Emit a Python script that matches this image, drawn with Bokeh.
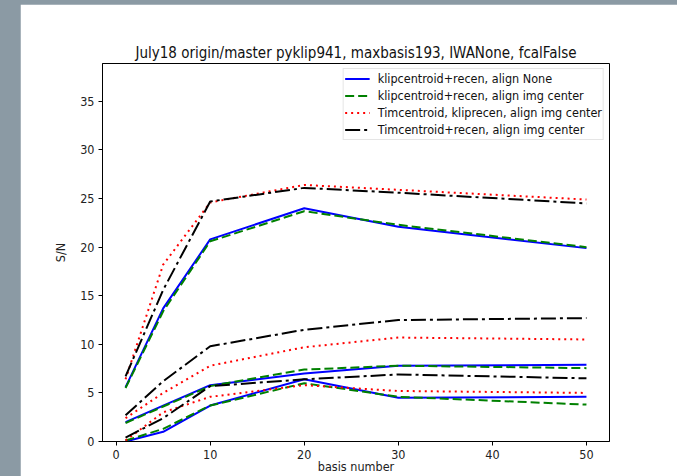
from bokeh.plotting import figure
from bokeh.models import Legend, LegendItem, FixedTicker, Range1d
from bokeh.layouts import column
from bokeh.embed import file_html
from bokeh.resources import INLINE

# number of KL basis vectors used in the reduction
basis = [1, 5, 10, 20, 30, 50]

series_labels = [
    "klipcentroid+recen, align None",
    "klipcentroid+recen, align img center",
    "Timcentroid, kliprecen, align img center",
    "Timcentroid+recen, align img center",
]

# S/N for the three injected companions (bright, middle, faint)
klip_align_none = [
    [5.6, 13.7, 20.8, 24.0, 22.1, 19.9],
    [2.0, 3.7, 5.8, 7.0, 7.8, 7.9],
    [0.0, 1.0, 3.7, 6.4, 4.5, 4.6],
]
klip_align_center = [
    [5.5, 13.4, 20.6, 23.7, 22.3, 20.0],
    [1.9, 3.6, 5.7, 7.4, 7.8, 7.55],
    [0.1, 1.3, 3.7, 6.0, 4.6, 3.8],
]
tim_kliprecen_center = [
    [6.4, 18.2, 24.6, 26.4, 25.9, 24.9],
    [2.4, 5.0, 7.8, 9.7, 10.7, 10.5],
    [0.1, 3.0, 4.6, 5.8, 5.2, 5.0],
]
tim_recen_center = [
    [6.7, 15.6, 24.7, 26.1, 25.6, 24.5],
    [2.7, 6.2, 9.8, 11.5, 12.5, 12.7],
    [0.4, 2.4, 5.7, 6.4, 6.9, 6.5],
]

x_ticks = [0, 10, 20, 30, 40, 50]
y_ticks = [0, 5, 10, 15, 20, 25, 30, 35]

FONT = "DejaVu Sans Condensed"

styles = [
    dict(line_color="#0000ff", line_dash="solid"),
    dict(line_color="#008000", line_dash="9 4"),
    dict(line_color="#ff0000", line_dash="2 4"),
    dict(line_color="#000000", line_dash="15 4 3 4"),
]

p = figure(
    width=657, height=472,
    x_range=Range1d(-1.45, 52.45), y_range=Range1d(0, 38.9),
    output_backend="svg", toolbar_location=None,
    min_border_left=82, min_border_right=68,
    min_border_top=59, min_border_bottom=34,
    title="July18 origin/master pyklip941, maxbasis193, IWANone, fcalFalse",
)
p.margin = (4, 0, 0, 20)
p.background_fill_color = "white"
p.border_fill_color = "white"
p.outline_line_color = "black"
p.outline_line_width = 1
p.xgrid.visible = False
p.ygrid.visible = False

p.title.align = "center"
p.title.text_font = FONT
p.title.text_font_size = "15px"
p.title.text_font_style = "normal"
p.title.text_color = "#111111"
p.title.standoff = 4

for ax in (p.xaxis[0], p.yaxis[0]):
    ax.major_label_text_font = FONT
    ax.major_label_text_font_size = "12.5px"
    ax.major_label_text_color = "#222222"
    ax.axis_label_text_font = FONT
    ax.axis_label_text_font_size = "12.5px"
    ax.axis_label_text_font_style = "normal"
    ax.axis_label_text_color = "#222222"
    ax.major_tick_in = 0
    ax.major_tick_out = 4
    ax.minor_tick_in = 0
    ax.minor_tick_out = 0
    ax.axis_line_color = "black"
    ax.major_tick_line_color = "black"

p.xaxis.ticker = FixedTicker(ticks=x_ticks)
p.yaxis.ticker = FixedTicker(ticks=y_ticks)
p.xaxis.axis_label = "basis number"
p.yaxis.axis_label = "S/N"
p.xaxis.major_label_standoff = 4
p.xaxis.axis_label_standoff = -3
p.yaxis.major_label_standoff = 4
p.yaxis.axis_label_standoff = 9

all_series = [klip_align_none, klip_align_center, tim_kliprecen_center, tim_recen_center]
first_renderers = [None] * 4
for group in range(3):
    for k, series in enumerate(all_series):
        r = p.line(basis, series[group], line_width=2, **styles[k])
        if first_renderers[k] is None:
            first_renderers[k] = r

legend = Legend(
    items=[LegendItem(label=lab, renderers=[r]) for lab, r in zip(series_labels, first_renderers)],
    location="top_right",
    margin=5,
    padding=1,
    spacing=0,
    label_height=17,
    glyph_height=17,
    glyph_width=25,
    label_standoff=8,
    label_text_font=FONT,
    label_text_font_size="12.5px",
    label_text_color="#111111",
    border_line_color="#cccccc",
    border_line_width=1,
    background_fill_color="white",
    background_fill_alpha=0.8,
)
p.add_layout(legend)

page = column(p, width=677, height=476,
              styles={"background-color": "#8b9aa4"})

open("out.html", "w").write(file_html(page, INLINE))
